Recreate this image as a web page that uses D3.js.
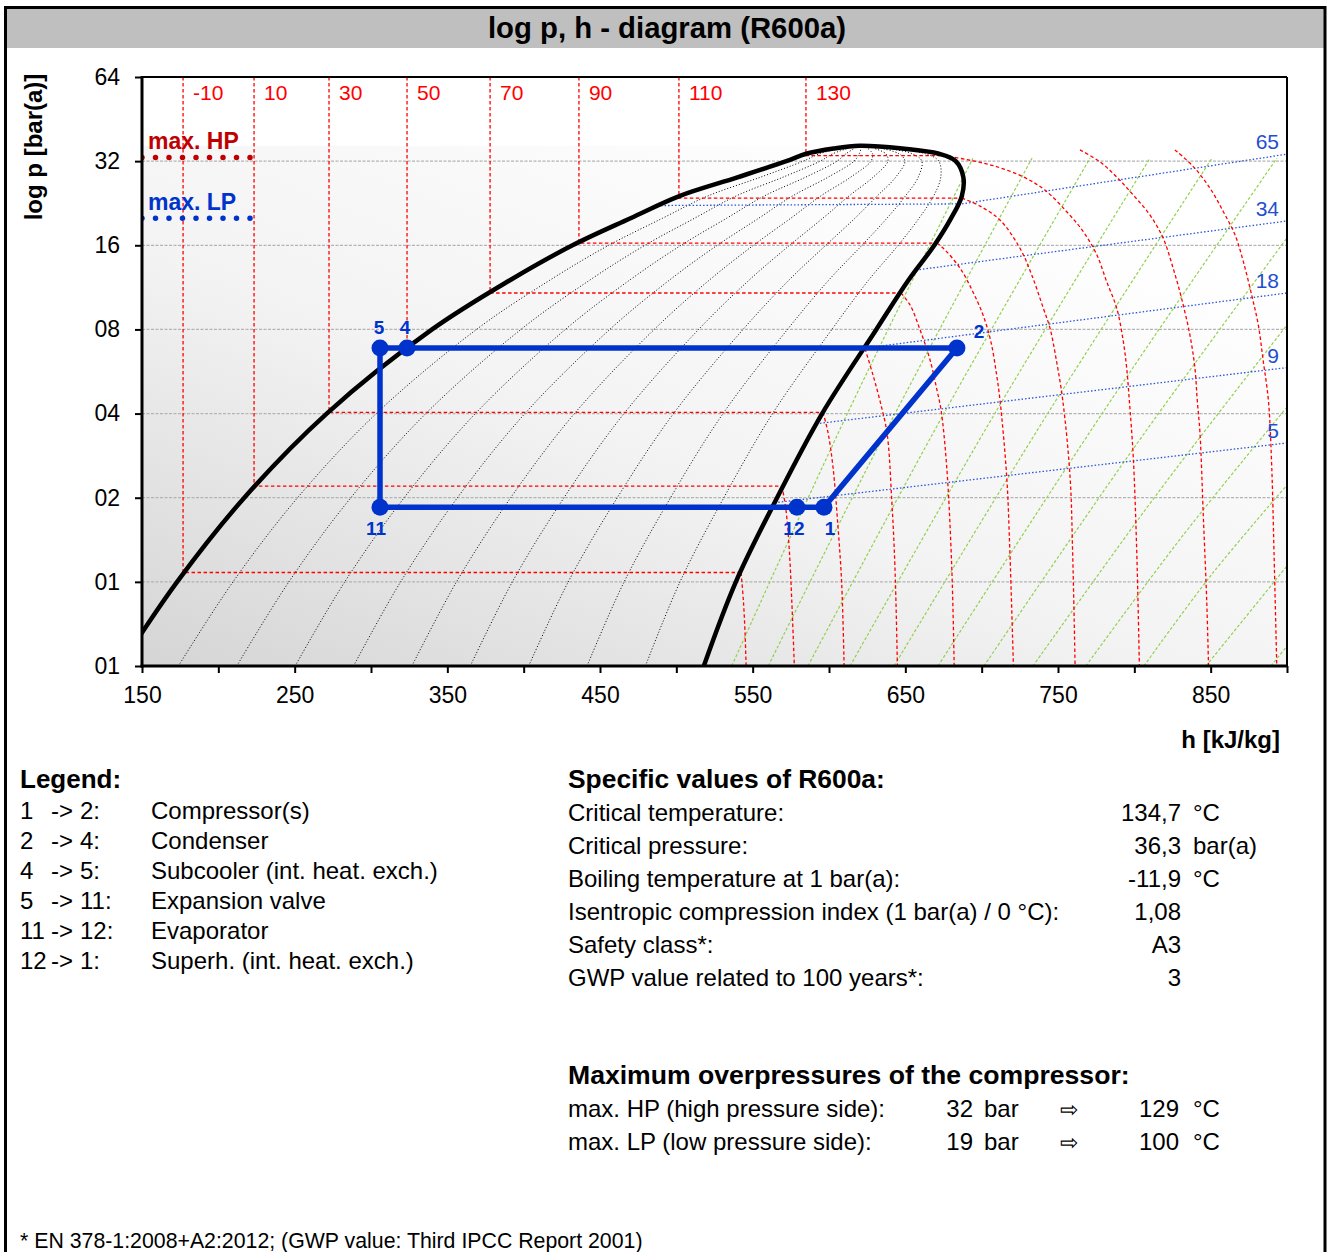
<!DOCTYPE html>
<html>
<head>
<meta charset="utf-8">
<script src="https://cdnjs.cloudflare.com/ajax/libs/d3/7.8.5/d3.min.js"></script>
<style>
  body { margin: 0; background: #fff; }
  svg text { font-family: "Liberation Sans", Arial, sans-serif; }
</style>
</head>
<body>
<div id="chart"></div>
<script>
// ---- saturation dome (h in kJ/kg, p in bar(a)) ----
var domeP  = [0.5, 1, 2, 4, 8, 12, 16, 20, 24, 28, 32, 34, 35.5];
var domeHl = [135.6, 173, 217, 271, 340, 391, 432, 470, 502, 540, 572, 585, 603];
var domeHv = [518, 539, 566, 595.5, 631, 652, 669, 680, 687, 688, 683, 672, 648];
var critH = 620, critP = 36.3;
var qualities = [0.1, 0.2, 0.3, 0.4, 0.5, 0.6, 0.7, 0.8, 0.9];

// ---- isotherms (°C) ----
var isoT    = [-10, 10, 30, 50, 70, 90, 110, 130];
var isoPsat = [1.08, 2.2, 4.04, 6.83, 10.8, 16.3, 23.6, 33.5];
var isoHl   = [176.9, 223.4, 272.5, 323.6, 378, 436.2, 501.7, 584.9];

var superT = [-10, 10, 30, 50, 70, 90, 110, 130, 150, 170];
var superH = [
  [542.4, 543.9, 545.0, 545.7],
  [569.2, 571.8, 574.0, 575.6, 577.3],
  [596.1, 599.4, 602.6, 605.9, 608.3, 609.9],
  [623.6, 628.8, 633.4, 638.0, 641.1, 643.2, 644.8],
  [647.2, 653.1, 659.7, 666.2, 670.7, 673.4, 677.1, 680.4, 682.0],
  [670.7, 674.7, 685.8, 694.3, 700.9, 706.1, 709.8, 712.0, 716.4, 718.5, 720.8],
  [687.1, 698.9, 712.0, 725.1, 732.8, 740.4, 744.8, 749.1, 753.1, 757.9, 759.6, 761.2],
  [674.7, 690.4, 708.7, 727.3, 741.5, 755.7, 766.6, 775.4, 781.9, 788.5, 792.8, 795.0, 796.7, 799.3, 801.6, 803.3],
  [764.4, 777.5, 788.4, 799.3, 810.3, 819.0, 825.5, 831.0, 836.4, 839.7, 841.2, 843.0, 845.2, 847.4, 848.6],
  [826.6, 838.6, 849.6, 858.3, 866.0, 871.4, 876.9, 881.2, 884.5, 887.8, 890.0, 891.5, 893.3]
];
var superP = [
  [1.08, 0.86, 0.66, 0.5],
  [2.2, 1.81, 1.30, 0.86, 0.5],
  [4.04, 3.41, 2.58, 1.57, 0.99, 0.5],
  [6.83, 5.50, 4.44, 3.41, 1.96, 1.13, 0.5],
  [10.8, 9.78, 7.96, 6.22, 4.86, 4.12, 2.58, 1.13, 0.5],
  [16.3, 15.65, 13.27, 10.89, 9.01, 7.21, 5.50, 4.47, 2.38, 1.27, 0.5],
  [23.6, 22.1, 19.7, 15.61, 12.53, 9.52, 8.07, 6.13, 4.47, 2.38, 1.27, 0.5],
  [33.5, 32.4, 30.7, 28.1, 25.2, 21.1, 17.9, 14.8, 11.85, 9.52, 7.23, 5.81, 4.47, 2.80, 1.27, 0.5],
  [35.1, 31.8, 28.1, 24.2, 20.5, 16.9, 13.2, 10.3, 7.64, 5.81, 4.47, 3.41, 1.71, 0.86, 0.5],
  [35.1, 30.6, 25.6, 21.1, 17.4, 13.98, 10.6, 8.30, 6.13, 4.47, 2.58, 1.27, 0.5]
];

// ---- isentropes (green) ----
var isenH = [
  [536.3, 612.7, 694.3], [560.2, 644.0, 733.0], [586.2, 676.0, 771.0],
  [613.8, 709.4, 810.3], [642.6, 744.1, 850.9], [671.4, 779.8, 893.4],
  [701.5, 798.1, 900], [733.6, 814.2, 900], [768.3, 831.6, 900],
  [806.3, 850.5, 900], [846.9, 900], [889.5, 900]
];
var isenP = [
  [0.5, 4.07, 32.8], [0.5, 4.07, 32.8], [0.5, 4.07, 32.8],
  [0.5, 4.07, 32.8], [0.5, 4.07, 32.8], [0.5, 4.07, 32.8],
  [0.5, 2.93, 17.0], [0.5, 2.04, 8.30], [0.5, 1.46, 4.22],
  [0.5, 1.06, 2.22], [0.5, 1.14], [0.5, 0.589]
];

// ---- density lines (blue, kg/m³) ----
var densLabel = ["65", "34", "18", "9", "5"];
var densH = [[490, 687, 900], [657, 900], [623.6, 900], [591.8, 900], [564.5, 900]];
var densP = [[22.2, 22.5, 33.9], [13.05, 19.55], [6.86, 10.8], [3.68, 5.84], [1.92, 3.14]];

// ---- refrigeration cycle ----
var cycleLabel = ["1", "2", "4", "5", "11", "12"];
var cycleH = [596.7, 683.8, 323.6, 305.9, 305.9, 579.0];
var cycleP = [1.85, 6.86, 6.86, 6.86, 1.85, 1.85];

// ---- max. overpressures (bar, gauge) ----
var maxHP = 32, maxLP = 19;
var limitH = [150, 223.4];

// ---- axes ----
var xTicks = [150, 200, 250, 300, 350, 400, 450, 500, 550, 600, 650, 700, 750, 800, 850, 900];
var yTicks = [64, 32, 16, 8, 4, 2, 1, 0.5];
var yTickLabels = ["64", "32", "16", "08", "04", "02", "01", "01"];

// ---- text blocks ----
var legFrom = ["1", "2", "4", "5", "11", "12"];
var legTo   = ["2:", "4:", "5:", "11:", "12:", "1:"];
var legDesc = ["Compressor(s)", "Condenser", "Subcooler (int. heat. exch.)", "Expansion valve", "Evaporator", "Superh. (int. heat. exch.)"];

var specLabels = ["Critical temperature:", "Critical pressure:", "Boiling temperature at 1 bar(a):",
                  "Isentropic compression index (1 bar(a) / 0 °C):", "Safety class*:", "GWP value related to 100 years*:"];
var specValues = ["134,7", "36,3", "-11,9", "1,08", "A3", "3"];
var specUnits  = ["°C", "bar(a)", "°C", "", "", ""];

var opLabels = ["max. HP (high pressure side):", "max. LP (low pressure side):"];
var opBar  = [maxHP, maxLP];
var opTemp = [129, 100];

var W = 1327, H = 1252;
var svg = d3.select("#chart").append("svg").attr("width", W).attr("height", H);

var x = d3.scaleLinear().domain([150, 900]).range([142, 1287]);
var y = d3.scaleLog().base(2).domain([0.5, 64]).range([666, 77]);

var RED = "#ff0000", BLUE = "#0033cc", GREEN = "#92d050";

function pts(hs, ps) { return hs.map(function(h, i) { return [h, ps[i]]; }); }

var smooth = d3.line().x(function(d) { return x(d[0]); }).y(function(d) { return y(d[1]); })
  .curve(d3.curveCatmullRom.alpha(0.5));
var straight = d3.line().x(function(d) { return x(d[0]); }).y(function(d) { return y(d[1]); });

// frame + title bar
svg.append("rect").attr("x", 7).attr("y", 9).attr("width", 1317).attr("height", 39).attr("fill", "#bfbfbf");
svg.append("rect").attr("x", 5.5).attr("y", 7.5).attr("width", 1319.5).attr("height", 1262)
  .attr("fill", "none").attr("stroke", "#000").attr("stroke-width", 3);
svg.append("text").attr("x", 667).attr("y", 38).attr("text-anchor", "middle")
  .attr("font-size", "29.3px").attr("font-weight", "bold").text("log p, h - diagram (R600a)");

// background gradient
var defs = svg.append("defs");
var grad = defs.append("linearGradient").attr("id", "bg")
  .attr("x1", 0).attr("y1", 1).attr("x2", 0.8).attr("y2", 0.1);
grad.append("stop").attr("offset", 0).attr("stop-color", "#d5d5d5");
grad.append("stop").attr("offset", 0.5).attr("stop-color", "#f3f3f3");
grad.append("stop").attr("offset", 1).attr("stop-color", "#ffffff");
defs.append("clipPath").attr("id", "plotclip").append("rect")
  .attr("x", 142).attr("y", 77).attr("width", 1145).attr("height", 589);

svg.append("rect").attr("x", 142).attr("y", y(critP)).attr("width", 1145)
  .attr("height", 666 - y(critP)).attr("fill", "url(#bg)");

var plot = svg.append("g").attr("clip-path", "url(#plotclip)");

// horizontal grid lines
plot.selectAll(".grid").data([1, 2, 4, 8, 16, 32]).enter().append("line")
  .attr("x1", 142).attr("x2", 1287).attr("y1", function(d) { return y(d); }).attr("y2", function(d) { return y(d); })
  .attr("stroke", "#b4b4b4").attr("stroke-width", 1.2).attr("stroke-dasharray", "3,1.5");

// quality lines
qualities.forEach(function(q) {
  var line = domeP.map(function(p, i) { return [domeHl[i] + q * (domeHv[i] - domeHl[i]), p]; });
  plot.append("path").attr("d", smooth(line)).attr("fill", "none")
    .attr("stroke", "#000").attr("stroke-width", 1).attr("stroke-dasharray", "1,2");
});

// isentropes
isenH.forEach(function(hs, i) {
  plot.append("path").attr("d", smooth(pts(hs, isenP[i]))).attr("fill", "none")
    .attr("stroke", GREEN).attr("stroke-width", 1.2).attr("stroke-dasharray", "3,2");
});

// density lines
densH.forEach(function(hs, i) {
  plot.append("path").attr("d", straight(pts(hs, densP[i]))).attr("fill", "none")
    .attr("stroke", "#2a55d8").attr("stroke-width", 1.3).attr("stroke-dasharray", "1.5,2");
});

// isotherms
isoT.forEach(function(t, i) {
  var hv = superH[i][0];
  plot.append("path").attr("d", straight([[isoHl[i], 64], [isoHl[i], isoPsat[i]], [hv, isoPsat[i]]]))
    .attr("fill", "none").attr("stroke", RED).attr("stroke-width", 1.3).attr("stroke-dasharray", "3.5,2.5");
});
superH.forEach(function(hs, i) {
  plot.append("path").attr("d", smooth(pts(hs, superP[i]))).attr("fill", "none")
    .attr("stroke", RED).attr("stroke-width", 1.3).attr("stroke-dasharray", "3.5,2.5");
});
svg.selectAll(".isolabel").data(isoT).enter().append("text")
  .attr("x", function(d, i) { return x(isoHl[i]) + 10; }).attr("y", 100)
  .attr("font-size", "21px").attr("fill", RED).text(function(d) { return d; });

// density labels
svg.selectAll(".denslabel").data(densLabel).enter().append("text")
  .attr("x", x(900) - 8).attr("text-anchor", "end")
  .attr("y", function(d, i) { var p = densP[i]; return y(p[p.length - 1]) - 5; })
  .attr("font-size", "21px").attr("fill", "#1f4fd0").text(function(d) { return d; });

// saturation dome
var dome = pts(domeHl, domeP).concat([[critH, critP]]).concat(pts(domeHv, domeP).reverse());
plot.append("path").attr("d", smooth(dome)).attr("fill", "none")
  .attr("stroke", "#000").attr("stroke-width", 4.5);

// max. HP / LP
[[maxHP, "#c00000", "max. HP"], [maxLP, BLUE, "max. LP"]].forEach(function(m) {
  var pa = m[0] + 1;
  plot.append("path").attr("d", straight([[limitH[0], pa], [limitH[1], pa]]))
    .attr("stroke", m[1]).attr("stroke-width", 5.5).attr("stroke-linecap", "round")
    .attr("stroke-dasharray", "0,13.5");
  svg.append("text").attr("x", 148).attr("y", y(pa) - 8)
    .attr("font-family", "Lato, 'Liberation Sans', sans-serif").attr("font-weight", "bold")
    .attr("font-size", "23px").attr("fill", m[1]).text(m[2]);
});

// cycle
var order = [0, 1, 2, 3, 4, 5, 0];
plot.append("path").attr("d", straight(order.map(function(k) { return [cycleH[k], cycleP[k]]; })))
  .attr("fill", "none").attr("stroke", BLUE).attr("stroke-width", 5.5).attr("stroke-linejoin", "round");
plot.selectAll(".pt").data(cycleLabel).enter().append("circle")
  .attr("cx", function(d, i) { return x(cycleH[i]); }).attr("cy", function(d, i) { return y(cycleP[i]); })
  .attr("r", 8.5).attr("fill", BLUE);
var lblOff = { "1": [6, 28], "2": [22, -10], "4": [-2, -14], "5": [-1, -14], "11": [-4, 28], "12": [-3, 28] };
svg.selectAll(".ptlabel").data(cycleLabel).enter().append("text")
  .attr("x", function(d, i) { return x(cycleH[i]) + lblOff[d][0]; })
  .attr("y", function(d, i) { return y(cycleP[i]) + lblOff[d][1]; })
  .attr("text-anchor", "middle").attr("font-size", "19px").attr("font-weight", "bold")
  .attr("fill", BLUE).text(function(d) { return d; });

// axes
var xAxis = svg.append("g").attr("transform", "translate(0,666)")
  .call(d3.axisBottom(x).tickValues(xTicks).tickSize(7).tickPadding(14)
    .tickFormat(function(d) { return ((d - 150) % 100 === 0 && d < 900) ? d : ""; }));
var yAxis = svg.append("g").attr("transform", "translate(142,0)")
  .call(d3.axisLeft(y).tickValues(yTicks).tickSize(7).tickPadding(15)
    .tickFormat(function(d, i) { return yTickLabels[i]; }));
[xAxis, yAxis].forEach(function(a) {
  a.select(".domain").remove();
  a.selectAll("line").attr("stroke", "#000").attr("stroke-width", 2);
  a.selectAll("text").attr("font-size", "23px").attr("fill", "#000")
    .attr("font-family", "'Liberation Sans', Arial, sans-serif");
});
svg.append("line").attr("x1", 142).attr("x2", 1287).attr("y1", 77).attr("y2", 77).attr("stroke", "#000").attr("stroke-width", 2);
svg.append("line").attr("x1", 1287).attr("x2", 1287).attr("y1", 77).attr("y2", 666).attr("stroke", "#000").attr("stroke-width", 2);
svg.append("line").attr("x1", 142).attr("x2", 142).attr("y1", 76).attr("y2", 667.5).attr("stroke", "#000").attr("stroke-width", 3);
svg.append("line").attr("x1", 140.5).attr("x2", 1288).attr("y1", 666).attr("y2", 666).attr("stroke", "#000").attr("stroke-width", 3);

svg.append("text").attr("transform", "translate(42,147) rotate(-90)").attr("text-anchor", "middle")
  .attr("font-size", "24px").attr("font-weight", "bold").text("log p [bar(a)]");
svg.append("text").attr("x", 1280).attr("y", 748).attr("text-anchor", "end")
  .attr("font-size", "24px").attr("font-weight", "bold").text("h [kJ/kg]");

// legend
svg.append("text").attr("x", 20).attr("y", 788).attr("font-size", "26px").attr("font-weight", "bold").text("Legend:");
legFrom.forEach(function(f, i) {
  var yy = 819 + i * 30;
  svg.append("text").attr("x", 20).attr("y", yy).attr("font-size", "24px").text(f);
  svg.append("text").attr("x", 51).attr("y", yy).attr("font-size", "24px").text("->");
  svg.append("text").attr("x", 80).attr("y", yy).attr("font-size", "24px").text(legTo[i]);
  svg.append("text").attr("x", 151).attr("y", yy).attr("font-size", "24px").text(legDesc[i]);
});

// specific values
svg.append("text").attr("x", 568).attr("y", 788).attr("font-size", "26.4px").attr("font-weight", "bold").text("Specific values of R600a:");
specLabels.forEach(function(s, i) {
  var yy = 821 + i * 33;
  svg.append("text").attr("x", 568).attr("y", yy).attr("font-size", "24px").text(s);
  svg.append("text").attr("x", 1181).attr("y", yy).attr("text-anchor", "end").attr("font-size", "24px").text(specValues[i]);
  svg.append("text").attr("x", 1193).attr("y", yy).attr("font-size", "24px").text(specUnits[i]);
});

// overpressures
svg.append("text").attr("x", 568).attr("y", 1084).attr("font-size", "26.6px").attr("font-weight", "bold")
  .text("Maximum overpressures of the compressor:");
opLabels.forEach(function(s, i) {
  var yy = 1117 + i * 33;
  svg.append("text").attr("x", 568).attr("y", yy).attr("font-size", "24px").text(s);
  svg.append("text").attr("x", 973).attr("y", yy).attr("text-anchor", "end").attr("font-size", "24px").text(opBar[i]);
  svg.append("text").attr("x", 984).attr("y", yy).attr("font-size", "24px").text("bar");
  svg.append("text").attr("x", 1069).attr("y", yy).attr("text-anchor", "middle").attr("font-size", "22px")
    .attr("font-family", "'DejaVu Sans', sans-serif").text("\u21e8");
  svg.append("text").attr("x", 1179).attr("y", yy).attr("text-anchor", "end").attr("font-size", "24px").text(opTemp[i]);
  svg.append("text").attr("x", 1193).attr("y", yy).attr("font-size", "24px").text("°C");
});

svg.append("text").attr("x", 20).attr("y", 1248).attr("font-size", "21.3px")
  .text("* EN 378-1:2008+A2:2012; (GWP value: Third IPCC Report 2001)");
</script>
</body>
</html>
